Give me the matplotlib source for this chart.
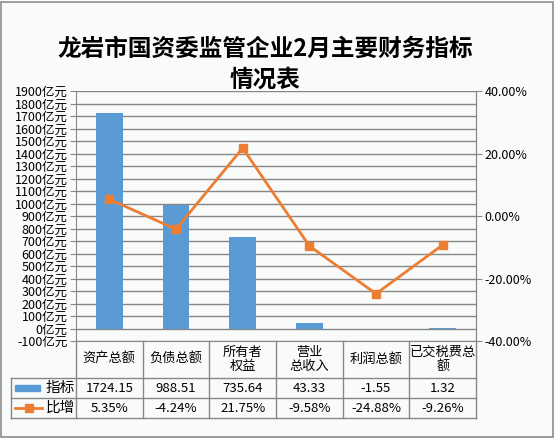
import numpy as np
import matplotlib
matplotlib.use('Agg')
import matplotlib.pyplot as plt
from matplotlib.transforms import blended_transform_factory
from matplotlib.lines import Line2D
from matplotlib.patches import Rectangle

plt.rcParams['font.family'] = ['Noto Sans CJK SC', 'DejaVu Sans']

# data
categories = ['资产总额', '负债总额', '所有者\n权益', '营业\n总收入', '利润总额', '已交税费总\n额']
values = [1724.15, 988.51, 735.64, 43.33, -1.55, 1.32]
growth = [5.35, -4.24, 21.75, -9.58, -24.88, -9.26]
bar_name = '指标'
line_name = '比增'
title = '龙岩市国资委监管企业2月主要财务指标\n情况表'

bar_color = '#5B9BD5'
line_color = '#ED7D31'
grid_color = '#878787'
bg = '#F9FBFB'

W, H = 555, 438
fig = plt.figure(figsize=(W / 100, H / 100), dpi=100, facecolor='white')
fig.patches.append(Rectangle((1 / W, 1 / H), (W - 3) / W, (H - 3) / H, transform=fig.transFigure,
                             facecolor=bg, edgecolor='#8C8C8C', lw=1.2, zorder=-10))

# plot area in pixels
left, right, top, bottom = 76, 476, 91, 341
ax = fig.add_axes([left / W, 1 - bottom / H, (right - left) / W, (bottom - top) / H])
ax.set_facecolor('none')

x = np.arange(len(categories))
ax.bar(x, values, width=0.4, color=bar_color, lw=0, zorder=2)
ax.set_xlim(-0.5, len(categories) - 0.5)
ax.set_ylim(-100, 1900)
yt = np.arange(-100, 1901, 100)
ax.set_yticks(yt)
ax.set_yticklabels([f'{v}亿元' for v in yt])
ax.grid(axis='y', color=grid_color, lw=1)
ax.set_axisbelow(True)
ax.set_xticks([])
ax.tick_params(axis='y', length=4, color=grid_color, labelsize=9, pad=2)
ax.spines['top'].set_visible(False)
for s in ['left', 'right', 'bottom']:
    ax.spines[s].set_color(grid_color)

ax2 = ax.twinx()
ax2.plot(x, np.array(growth) / 100, color=line_color, lw=2, marker='s', markersize=6, zorder=3)
ax2.set_ylim(-0.4, 0.4)
rt = np.arange(-0.4, 0.41, 0.2)
ax2.set_yticks(rt)
ax2.set_yticklabels([f'{v * 100:.2f}%' for v in rt])
ax2.tick_params(axis='y', length=4, color=grid_color, labelsize=9, pad=2)
for s in ['top', 'left', 'bottom']:
    ax2.spines[s].set_visible(False)
ax2.spines['right'].set_color(grid_color)

# data table below the axis
tr = blended_transform_factory(ax.transData, ax.transAxes)
ph = bottom - top
r0, r1, r2, r3 = [-(p - bottom) / ph for p in (341, 378, 398, 418)]
hx = -0.5 - 65 / 66.67
n = len(categories)

def hline(x0, x1, y):
    ax.add_line(Line2D([x0, x1], [y, y], transform=tr, color=grid_color, lw=1, clip_on=False))

def vline(xx, y0, y1):
    ax.add_line(Line2D([xx, xx], [y0, y1], transform=tr, color=grid_color, lw=1, clip_on=False))

for i in range(n + 1):
    vline(i - 0.5, r0, r3)
vline(hx, r1, r3)
hline(hx, n - 0.5, r1)
hline(hx, n - 0.5, r2)
hline(hx, n - 0.5, r3)

fs = 9.5
for i, c in enumerate(categories):
    ax.text(i, (r0 + r1) / 2, c, transform=tr, ha='center', va='center', fontsize=fs,
            linespacing=1.1, clip_on=False)
    ax.text(i, (r1 + r2) / 2, f'{values[i]:.2f}', transform=tr, ha='center', va='center',
            fontsize=fs, clip_on=False)
    ax.text(i, (r2 + r3) / 2, f'{growth[i]:.2f}%', transform=tr, ha='center', va='center',
            fontsize=fs, clip_on=False)

# legend keys in the row headers
kx0 = hx + 4 / 66.67
kx1 = hx + 29 / 66.67
ym1 = (r1 + r2) / 2
ax.add_patch(Rectangle((kx0, ym1 - 2.8 / ph), kx1 - kx0, 5.6 / ph, transform=tr,
                       color=bar_color, clip_on=False))
ym2 = (r2 + r3) / 2
ax.add_line(Line2D([kx0, kx1 + 2 / 66.67], [ym2, ym2], transform=tr, color=line_color, lw=2,
                   clip_on=False))
ax.add_line(Line2D([(kx0 + kx1) / 2 + 1 / 66.67], [ym2], transform=tr, color=line_color,
                   marker='s', markersize=6, clip_on=False))
ax.text(hx + 35 / 66.67, ym1, bar_name, transform=tr, ha='left', va='center', fontsize=10.5,
        clip_on=False)
ax.text(hx + 35 / 66.67, ym2, line_name, transform=tr, ha='left', va='center', fontsize=10.5,
        clip_on=False)

fig.text(265 / W, 1 - 64 / H, title, ha='center', va='center', fontsize=17,
         fontweight='bold', linespacing=1.35)

fig.savefig('out.png', dpi=100, facecolor='white')
